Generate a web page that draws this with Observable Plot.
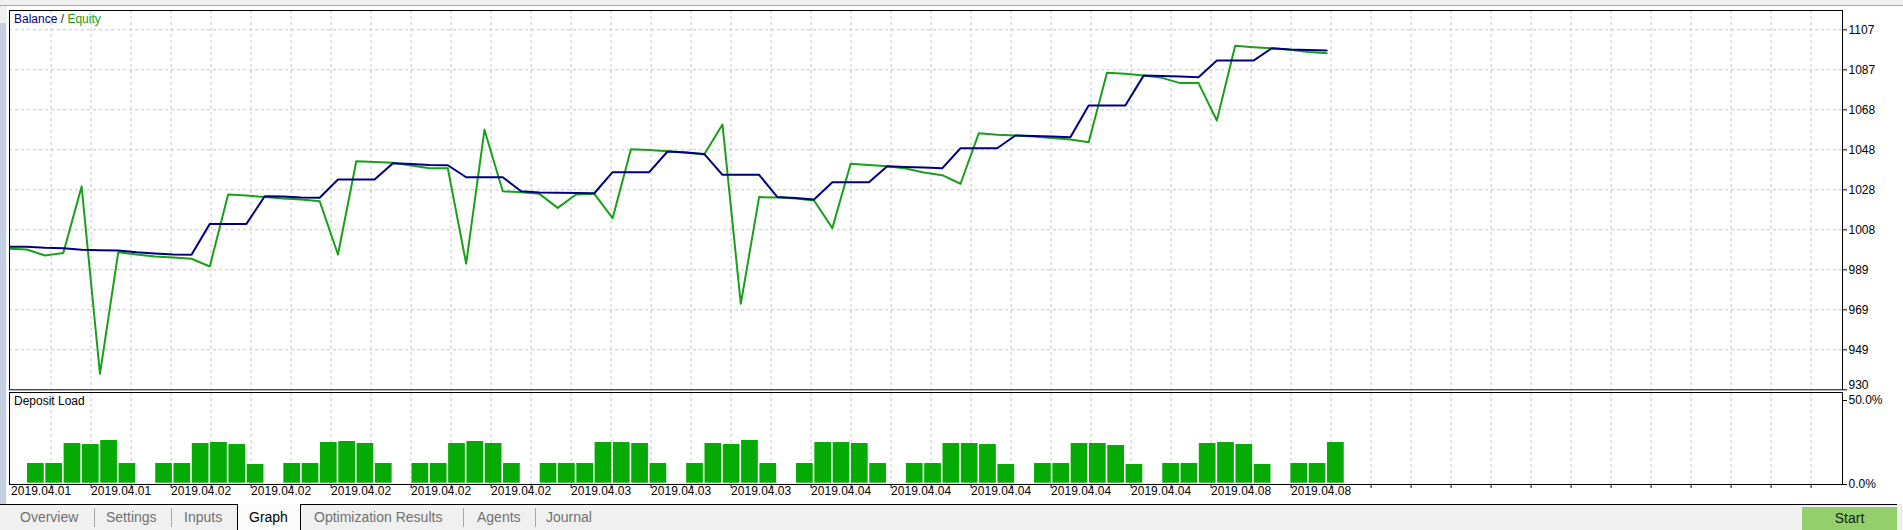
<!DOCTYPE html>
<html><head><meta charset="utf-8">
<script src="https://cdn.jsdelivr.net/npm/d3@7"></script>
<script src="https://cdn.jsdelivr.net/npm/@observablehq/plot@0.6"></script>
<style>
html,body{margin:0;padding:0;}
body{width:1903px;height:530px;overflow:hidden;background:#fff;font-family:"Liberation Sans",Arial,sans-serif;}
#root{position:relative;width:1903px;height:530px;background:#fff;overflow:hidden;}
.abs{position:absolute;}
.tab{position:absolute;top:507px;font-size:14px;line-height:20px;color:#707070;white-space:nowrap;}
.sep{position:absolute;top:508px;width:1px;height:19px;background:#a8a8a8;}
</style></head><body><div id="root"></div>
<script>
// ---- data (deal index -1 .. 71) ----
const balance = [1000, 1000, 999.5, 999.3, 998.5, 998.3, 998.2, 997.3, 996.7, 996.2, 996.1,
  1011.3, 1011.3, 1011.3, 1024.9, 1024.8, 1024.3, 1024.2, 1033.2, 1033.2, 1033.2,
  1041.2, 1040.8, 1040.3, 1040.2, 1034.3, 1034.3, 1034.3, 1027.4, 1026.8, 1026.6, 1026.5, 1026.4,
  1036.8, 1036.8, 1036.8, 1047.0, 1046.5, 1045.8, 1035.5, 1035.5, 1035.5, 1024.5, 1024.1, 1023.3,
  1031.8, 1031.8, 1031.8, 1039.7, 1039.4, 1039.1, 1038.7, 1048.6, 1048.6, 1048.6,
  1054.9, 1054.6, 1054.4, 1054.0, 1069.7, 1069.7, 1069.7, 1084.4, 1084.2, 1083.9, 1083.6,
  1091.8, 1091.8, 1091.8, 1097.9, 1097.3, 1097.0, 1096.8];
const equity = [999.0, 998.7, 995.7, 997.0, 1029.7, 937.4, 997.3, 996.2, 995.2, 994.7, 994.1,
  990.3, 1025.8, 1025.3, 1024.5, 1023.8, 1023.3, 1022.5, 996.2, 1042.2, 1041.8, 1041.4,
  1040.1, 1038.7, 1038.7, 991.7, 1057.7, 1027.4, 1026.9, 1026.1, 1019.2, 1025.8, 1026.1,
  1014.1, 1048.1, 1047.7, 1047.1, 1046.5, 1045.5, 1060.3, 971.9, 1024.5, 1024.3, 1023.8,
  1022.8, 1009.2, 1040.9, 1040.3, 1039.7, 1038.6, 1036.6, 1035.3, 1031.1, 1056.0, 1055.2,
  1054.9, 1054.4, 1053.6, 1052.9, 1051.6, 1085.8, 1085.3, 1084.4, 1083.3, 1080.7, 1080.7,
  1062.3, 1099.1, 1098.4, 1097.9, 1097.1, 1096.0, 1095.4];
// deposit load per deal slot 0 .. 71 (%), null = no open position
const depositLoad = [12.5,12.5,24.4,23.8,26.2,12.5,null, 12.5,12.5,24.4,25.0,23.8,11.9,null,
  12.5,12.5,25.0,25.6,24.4,12.5,null, 12.5,12.5,24.4,25.6,24.4,12.5,null,
  12.5,12.5,12.5,25.0,25.0,24.4,12.5,null, 12.5,24.4,23.8,26.2,12.5,null,
  12.5,25.0,25.0,24.4,12.5,null, 12.5,12.5,24.4,24.4,23.8,11.9,null,
  12.5,12.5,24.4,24.4,23.2,11.9,null, 12.5,12.5,24.4,25.0,23.8,11.9,null, 12.5,12.5,25.0];
const dateLabels = ["2019.04.01","2019.04.01","2019.04.02","2019.04.02","2019.04.02","2019.04.02",
  "2019.04.02","2019.04.03","2019.04.03","2019.04.03","2019.04.04","2019.04.04","2019.04.04",
  "2019.04.04","2019.04.04","2019.04.08","2019.04.08"];
const yTickValues = [929.5, 949.22, 968.94, 988.66, 1008.38, 1028.1, 1047.82, 1067.54, 1087.26, 1106.98];
const yTickLabels = ["930","949","969","989","1008","1028","1048","1068","1087","1107"];
const loadTicks = [0, 50];

// ---- scales setup ----
const W = 1903;
const xDomain = [-0.94, 99.17];          // deal index range visible
const gridStart = 1.3326, gridStep = 2.1846, gridCount = 45;
const gridX = d3.range(gridCount).map(k => gridStart + k * gridStep);
const labelX = dateLabels.map((_, m) => gridStart + (2 * m - 1) * gridStep);
const rows = balance.map((b, i) => ({deal: i - 1, balance: b, equity: equity[i]}));
const bars = depositLoad.map((v, s) => ({slot: s, load: v})).filter(d => d.load != null);
const yLabel = new Map(yTickValues.map((v, i) => [v, yTickLabels[i]]));
const yMin = yTickValues[0];

const GREEN = "#19a019", NAVY = "#00007f", BAR = "#05aa05", GRID = "#c6c6c6";
const font = "'Liberation Sans', Arial, sans-serif";

const topChart = Plot.plot({
  width: W, height: 391,
  marginTop: 10, marginBottom: 1.7, marginLeft: 9, marginRight: 61,
  style: {fontFamily: font, fontSize: "12px", background: "transparent", overflow: "hidden", color: "#000"},
  x: {domain: xDomain, axis: null},
  y: {domain: [929.5, 1116.5], axis: "right", ticks: yTickValues,
      tickFormat: d => d === yMin ? "" : yLabel.get(d), tickSize: 4, tickPadding: 2, label: null},
  marks: [
    Plot.ruleX(gridX, {stroke: GRID, strokeDasharray: "3,3"}),
    Plot.ruleY(yTickValues.slice(1), {stroke: GRID, strokeDasharray: "3,3"}),
    Plot.line(rows, {x: "deal", y: "equity", stroke: GREEN, strokeWidth: 2, clip: true}),
    Plot.line(rows, {x: "deal", y: "balance", stroke: NAVY, strokeWidth: 2, clip: true}),
    Plot.text([yMin], {y: d => d, text: d => yLabel.get(d), frameAnchor: "right", dx: 6, dy: -5,
      textAnchor: "start", fontSize: 12, fill: "#000"}),
    Plot.frame({stroke: "#000"})
  ]
});

const bottomChart = Plot.plot({
  width: W, height: 114,
  marginTop: 1, marginBottom: 21, marginLeft: 9, marginRight: 61,
  style: {fontFamily: font, fontSize: "12px", background: "white", overflow: "visible", color: "#000"},
  x: {domain: xDomain, ticks: gridX, tickFormat: () => "", tickSize: 4, label: null},
  y: {domain: [0, 54.76], axis: "right", ticks: loadTicks, tickFormat: d => d.toFixed(1) + "%", tickSize: 4, tickPadding: 2, label: null},
  marks: [
    Plot.ruleX(gridX, {stroke: GRID, strokeDasharray: "3,3"}),
    Plot.rectY(bars, {x1: "slot", x2: d => d.slot + 1, y: "load", fill: BAR, insetLeft: 0.8, insetRight: 0.8, insetBottom: 1.3}),
    Plot.text(dateLabels, {x: (d, i) => labelX[i], frameAnchor: "bottom", dy: 10.5, textAnchor: "start", fontSize: 12, fill: "#000"}),
    Plot.frame({stroke: "#000"})
  ]
});

const root = document.getElementById("root");
topChart.style.position = "absolute"; topChart.style.left = "0px"; topChart.style.top = "0px";
bottomChart.style.position = "absolute"; bottomChart.style.left = "0px"; bottomChart.style.top = "391px";
root.appendChild(topChart);
root.appendChild(bottomChart);

function div(css, html) {
  const d = document.createElement("div");
  d.className = "abs";
  d.style.cssText += css;
  if (html != null) d.innerHTML = html;
  root.appendChild(d);
  return d;
}
// window chrome
div("left:0;top:0;width:1903px;height:5px;background:#f0f0f0;");
div("left:0;top:5px;width:1903px;height:1px;background:#a9a9a9;");
div("left:0;top:6px;width:7px;height:498px;background:#f0f0f0;");
div("left:0;top:23px;width:6px;height:481px;background:#c3d0e2;");
// panel titles
div("left:14px;top:12px;font-size:12px;line-height:14px;white-space:nowrap;color:#222;",
  `<span style="color:${NAVY}">Balance</span> / <span style="color:${GREEN}">Equity</span>`);
div("left:14px;top:394px;font-size:12px;line-height:14px;white-space:nowrap;color:#000;", "Deposit Load");
// tab bar
div("left:0;top:504px;width:1903px;height:26px;background:#f0f0f0;");
div("left:0;top:504px;width:1897px;height:1px;background:#000;");
div("left:237px;top:504px;width:62px;height:26px;background:#fbfbfb;border-left:1px solid #000;border-right:1px solid #000;");
const tabs = [["Overview",20],["Settings",106],["Inputs",184],["Graph",249],["Optimization Results",314],["Agents",477],["Journal",546]];
tabs.forEach(([t, x]) => {
  const d = div("", t); d.className = "tab"; d.style.left = x + "px";
  if (t === "Graph") d.style.color = "#000";
});
[94, 171, 463, 535].forEach(x => { const s = div(""); s.className = "sep"; s.style.left = x + "px"; });
div("left:1802px;top:507px;width:95px;height:23px;background:#93d06b;color:#1a1a1a;font-size:14px;line-height:23px;text-align:center;", "Start");
</script>
</body></html>
